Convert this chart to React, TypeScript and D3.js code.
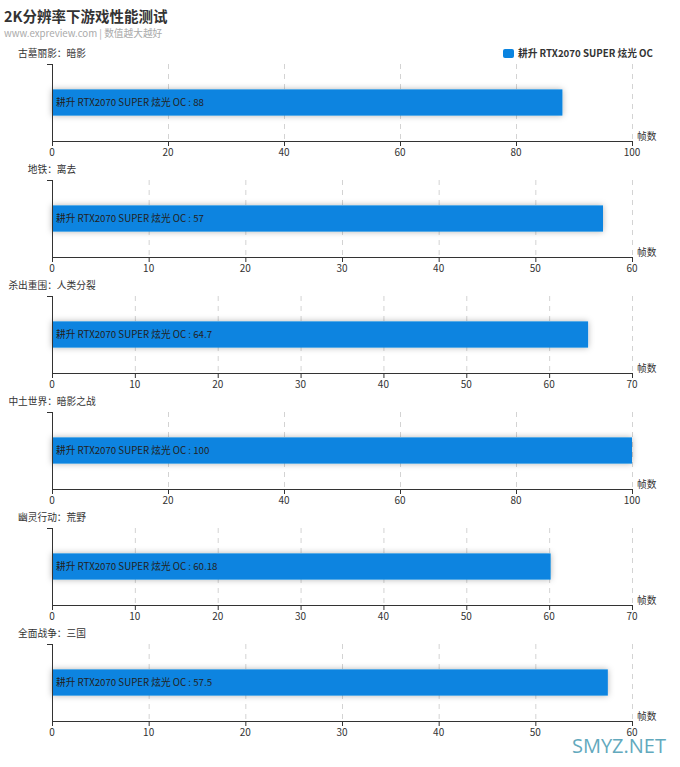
import { useEffect, useRef } from 'react'
import * as d3 from 'd3'

const games = ['古墓丽影：暗影', '地铁：离去', '杀出重围：人类分裂', '中土世界：暗影之战', '幽灵行动：荒野', '全面战争：三国']
const values = [88, 57, 64.7, 100, 60.18, 57.5]
const axisMax = [100, 60, 70, 100, 70, 60]
const tickStep = [20, 10, 10, 20, 10, 10]
const seriesName = '耕升 RTX2070 SUPER 炫光 OC'

const W = 680
const H = 767
const FONT = '"Microsoft YaHei", "Noto Sans CJK SC", "Noto Sans", sans-serif'

export default function App() {
  const svgRef = useRef<SVGSVGElement>(null)

  useEffect(() => {
    if (!svgRef.current) return
    const svg = d3.select(svgRef.current)
    svg.selectAll('*').remove()
    svg.style('font-family', FONT)

    const defs = svg.append('defs')
    const f = defs.append('filter').attr('id', 'shadow').attr('x', '-5%').attr('y', '-40%').attr('width', '110%').attr('height', '180%')
    f.append('feDropShadow').attr('dx', 0).attr('dy', 0).attr('stdDeviation', 3).attr('flood-color', '#000').attr('flood-opacity', 0.3)

    // Title
    svg.append('text').attr('x', 4).attr('y', 22).attr('font-size', 14.5).attr('font-weight', 'bold').attr('fill', '#333').text('2K分辨率下游戏性能测试')
    svg.append('text').attr('x', 4).attr('y', 37).attr('font-size', 9.7).attr('fill', '#aaa').text('www.expreview.com | 数值越大越好')

    // Legend
    svg.append('rect').attr('x', 503).attr('y', 49).attr('width', 11).attr('height', 9).attr('rx', 2).attr('fill', '#0A84E0')
    svg.append('text').attr('x', 518).attr('y', 57).attr('font-size', 9.7).attr('font-weight', 'bold').attr('fill', '#333').text(seriesName)

    const left = 52
    const right = 632

    games.forEach((game, i) => {
      const top = 64 + i * 116
      const bottom = 141 + i * 116
      const g = svg.append('g')

      const x = d3.scaleLinear().domain([0, axisMax[i]]).range([left, right])
      const ticks = d3.range(0, axisMax[i] + 0.001, tickStep[i])
      const y = d3.scaleBand().domain([seriesName]).range([top, bottom]).paddingInner(0.66).paddingOuter(0.33)

      // y axis name
      g.append('text').attr('x', left).attr('y', top - 7).attr('text-anchor', 'middle').attr('font-size', 9.7).attr('fill', '#333').text(game)

      // grid
      g.selectAll('line.grid').data(ticks.slice(1)).enter().append('line')
        .attr('x1', (d) => x(d) + 0.5).attr('x2', (d) => x(d) + 0.5)
        .attr('y1', top).attr('y2', bottom)
        .attr('stroke', '#d3d3d3').attr('stroke-dasharray', '5,5').attr('stroke-width', 1)

      // bar
      const by = y(seriesName)!
      g.append('rect').attr('x', x(0)).attr('y', by).attr('width', x(values[i]) - x(0)).attr('height', y.bandwidth())
        .attr('fill', '#0A84E0').attr('filter', 'url(#shadow)')
      g.append('text').attr('x', x(0) + 4).attr('y', by + y.bandwidth() / 2).attr('dy', '0.35em')
        .attr('font-size', 9.7).attr('fill', '#222').text(`${seriesName} : ${values[i]}`)

      // y axis
      g.append('line').attr('x1', left + 0.5).attr('x2', left + 0.5).attr('y1', top).attr('y2', bottom).attr('stroke', '#333')
      g.append('line').attr('x1', left - 5).attr('x2', left + 0.5).attr('y1', top + 0.5).attr('y2', top + 0.5).attr('stroke', '#333')

      // x axis
      g.append('line').attr('x1', left).attr('x2', right).attr('y1', bottom + 0.5).attr('y2', bottom + 0.5).attr('stroke', '#333')
      g.selectAll('line.tick').data(ticks).enter().append('line')
        .attr('x1', (d) => x(d) + 0.5).attr('x2', (d) => x(d) + 0.5)
        .attr('y1', bottom).attr('y2', bottom + 5).attr('stroke', '#333')
      g.selectAll('text.tick').data(ticks).enter().append('text')
        .attr('x', (d) => x(d)).attr('y', bottom + 15)
        .attr('text-anchor', 'middle').attr('font-size', 10).attr('fill', '#333').text((d) => d)
      g.append('text').attr('x', right + 5).attr('y', bottom - 1).attr('font-size', 9.7).attr('fill', '#333').text('帧数')
    })

    // watermark
    svg.append('text').attr('x', 666).attr('y', 753).attr('text-anchor', 'end').attr('font-size', 20)
      .attr('font-family', '"Open Sans", "Noto Sans", sans-serif').attr('fill', '#62a9bd').text('SMYZ.NET')
  }, [])

  return (
    <svg ref={svgRef} width={W} height={H}
      style={{ position: 'absolute', left: 0, top: 0, background: '#fff', display: 'block' }} />
  )
}
